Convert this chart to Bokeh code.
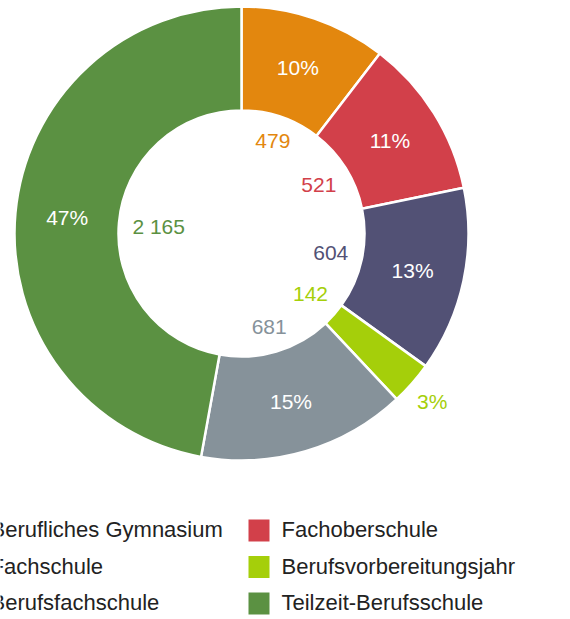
import numpy as np
from bokeh.plotting import figure
from bokeh.models import Range1d, ColumnDataSource
from bokeh.core.properties import value
from bokeh.embed import file_html
from bokeh.resources import INLINE

# ---- data ----
categories = ["Berufliches Gymnasium", "Fachoberschule", "Fachschule",
              "Berufsvorbereitungsjahr", "Berufsfachschule", "Teilzeit-Berufsschule"]
counts = [479, 521, 604, 142, 681, 2165]
count_labels = ["479", "521", "604", "142", "681", "2 165"]
colors = ["#E3870E", "#D2404A", "#525175", "#A5CF0A", "#86929A", "#5B9142"]

# ---- layout constants ----
W, H = 570, 619
CX, CY = 241, H - 233
R_IN, R_OUT = 123, 227
FONT = "Liberation Sans"
FS = 21
LFS = 22

p = figure(width=W, height=H, x_range=Range1d(0, W), y_range=Range1d(0, H),
           output_backend="svg", toolbar_location=None, min_border=0,
           x_axis_location=None, y_axis_location=None)
p.grid.visible = False
p.outline_line_color = None

vals = np.array(counts, dtype=float)
frac = vals / vals.sum()
cum_after = np.cumsum(frac)
cum_before = cum_after - frac
start = np.pi / 2 - 2 * np.pi * cum_before
end = np.pi / 2 - 2 * np.pi * cum_after
mid = (start + end) / 2

src = ColumnDataSource(dict(start=start, end=end, color=colors))
p.annular_wedge(x=CX, y=CY, inner_radius=R_IN, outer_radius=R_OUT,
                start_angle="start", end_angle="end", direction="clock",
                fill_color="color", line_color="white", line_width=2.5, source=src)

# percentage labels
pct_text, px, py, pcol = [], [], [], []
for f, a, c in zip(frac, mid, colors):
    pc = int(round(f * 100))
    pct_text.append(f"{pc}%")
    if pc >= 5:
        r = (R_IN + R_OUT) / 2
        pcol.append("white")
    else:
        r = R_OUT + 27
        pcol.append(c)
    px.append(CX + r * np.cos(a))
    py.append(CY + r * np.sin(a))
p.text(x=px, y=py, text=pct_text, text_color=pcol, text_font=value(FONT),
       text_font_size=f"{FS}px", text_align="center", text_baseline="middle")

# count labels inside the hole
nx, ny = [], []
for lab, a in zip(count_labels, mid):
    w = sum(0.278 if ch == " " else 0.556 for ch in lab) * FS
    h = 15
    r = 110 - (w / 2) * abs(np.cos(a)) - (h / 2) * abs(np.sin(a))
    nx.append(CX + r * np.cos(a))
    ny.append(CY + r * np.sin(a))
p.text(x=nx, y=ny, text=count_labels, text_color=colors, text_font=value(FONT),
       text_font_size=f"{FS}px", text_align="center", text_baseline="middle")

# legend (two columns, row-wise)
sx, sy, tx = [], [], []
for i, name in enumerate(categories):
    col, row = i % 2, i // 2
    x0 = -32.5 + 291 * col
    y0 = H - (530 + 36.5 * row)
    sx.append(x0)
    sy.append(y0)
    tx.append(x0 + 22.5)
p.rect(x=sx, y=sy, width=21, height=22, width_units="screen", height_units="screen",
       fill_color=colors, line_color=None)
p.text(x=tx, y=[y + 1 for y in sy], text=categories, text_color="#222222",
       text_font=value(FONT), text_font_size=f"{LFS}px",
       text_align="left", text_baseline="middle")

open("out.html", "w").write(file_html(p, INLINE))
